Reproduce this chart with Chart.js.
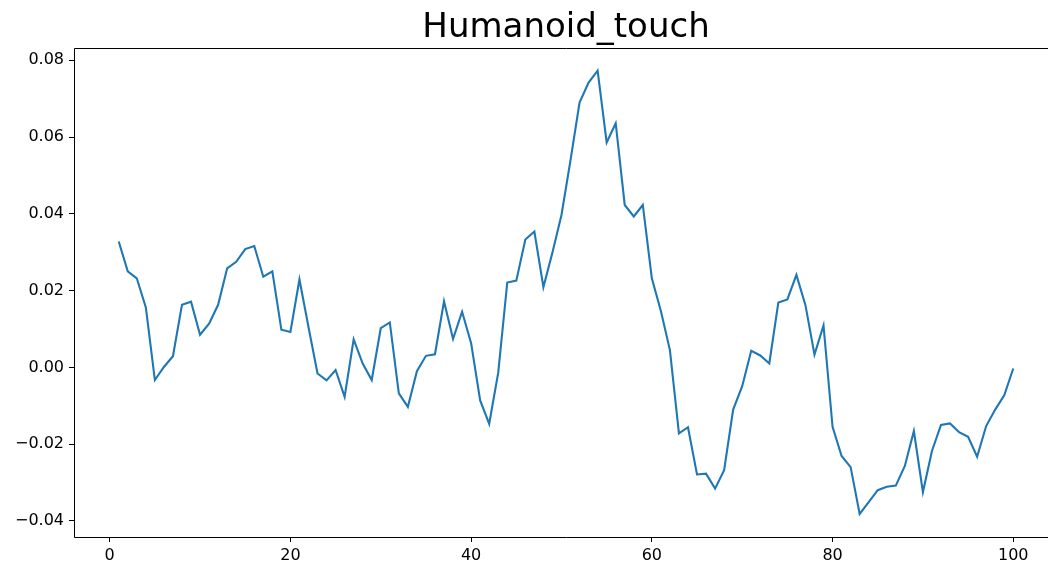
<!DOCTYPE html>
<html>
<head>
<meta charset="utf-8">
<script src="https://cdn.jsdelivr.net/npm/chart.js@4"></script>
<style>
  html, body { margin: 0; padding: 0; background: #fff; overflow: hidden; }
  #wrap { width: 1064px; height: 567px; }
</style>
</head>
<body>
<div id="wrap"><canvas id="chart" width="1064" height="567"></canvas></div>
<script>
const chartTitle = 'Humanoid_touch';

// one value per step, steps run 1..100
const touchValues = [
  0.0328, 0.0250, 0.0232, 0.0156, -0.0033, 0.0001, 0.0029, 0.0163, 0.0171, 0.0085,
  0.0114, 0.0163, 0.0258, 0.0275, 0.0308, 0.0316, 0.0236, 0.0250, 0.0098, 0.0092,
  0.0229, 0.0105, -0.0016, -0.0034, -0.0007, -0.0077, 0.0073, 0.0010, -0.0033, 0.0102,
  0.0117, -0.0068, -0.0103, -0.0010, 0.0030, 0.0034, 0.0172, 0.0074, 0.0145, 0.0063,
  -0.0086, -0.0147, -0.0014, 0.0221, 0.0226, 0.0333, 0.0354, 0.0209, 0.0299, 0.0397,
  0.0540, 0.0690, 0.0742, 0.0773, 0.0586, 0.0636, 0.0423, 0.0393, 0.0423, 0.0232,
  0.0147, 0.0045, -0.0172, -0.0156, -0.0279, -0.0277, -0.0316, -0.0268, -0.0110, -0.0049,
  0.0043, 0.0031, 0.0010, 0.0169, 0.0177, 0.0241, 0.0162, 0.0033, 0.0109, -0.0155,
  -0.0231, -0.0260, -0.0382, -0.0351, -0.0320, -0.0311, -0.0308, -0.0257, -0.0166, -0.0325,
  -0.0218, -0.0150, -0.0146, -0.0169, -0.0181, -0.0233, -0.0153, -0.0110, -0.0073, -0.0003
];

const xTicks = [0, 20, 40, 60, 80, 100];
const yTicks = [-0.04, -0.02, 0.00, 0.02, 0.04, 0.06, 0.08];
const xRange = [-3.95, 104.95];
const yRange = [-0.0442, 0.0832];

const points = touchValues.map((v, i) => ({ x: i + 1, y: v }));

const FONT = '"DejaVu Sans", sans-serif';

// left, top and bottom spines plus the title above the axes
const framePlugin = {
  id: 'frame',
  afterDraw(chart) {
    const { ctx, chartArea: a } = chart;
    ctx.save();
    ctx.strokeStyle = '#000';
    ctx.lineWidth = 1;
    ctx.beginPath();
    ctx.moveTo(a.right, a.top + 0.5);
    ctx.lineTo(a.left + 0.5, a.top + 0.5);
    ctx.lineTo(a.left + 0.5, a.bottom + 0.5);
    ctx.lineTo(a.right, a.bottom + 0.5);
    ctx.stroke();
    ctx.fillStyle = '#000';
    ctx.font = '34px ' + FONT;
    ctx.textAlign = 'center';
    ctx.textBaseline = 'alphabetic';
    ctx.fillText(chartTitle, (a.left + a.right) / 2, 37);
    ctx.restore();
  }
};

const minus = v => (v < 0 ? '\u2212' : '') + Math.abs(v).toFixed(2);

new Chart(document.getElementById('chart'), {
  type: 'line',
  data: {
    datasets: [{
      data: points,
      borderColor: '#1f77b4',
      borderWidth: 2.1,
      pointRadius: 0,
      tension: 0,
      fill: false
    }]
  },
  options: {
    responsive: false,
    animation: false,
    layout: { padding: { left: 0, top: 48, right: 6, bottom: 0 } },
    plugins: {
      legend: { display: false },
      tooltip: { enabled: false }
    },
    scales: {
      x: {
        type: 'linear',
        min: xRange[0],
        max: xRange[1],
        afterBuildTicks: s => { s.ticks = xTicks.map(v => ({ value: v })); },
        afterFit: s => { s.height = 30; },
        border: { display: false },
        grid: { drawOnChartArea: false, drawTicks: true, tickLength: 5, color: '#000' },
        ticks: { color: '#000', padding: 4, font: { family: FONT, size: 16 }, maxRotation: 0 }
      },
      y: {
        type: 'linear',
        min: yRange[0],
        max: yRange[1],
        afterBuildTicks: s => { s.ticks = yTicks.map(v => ({ value: v })); },
        afterFit: s => { s.width = 74; },
        border: { display: false },
        grid: { drawOnChartArea: false, drawTicks: true, tickLength: 5, color: '#000' },
        ticks: { color: '#000', padding: 5, font: { family: FONT, size: 16 }, callback: minus }
      }
    }
  },
  plugins: [framePlugin]
});
</script>
</body>
</html>
